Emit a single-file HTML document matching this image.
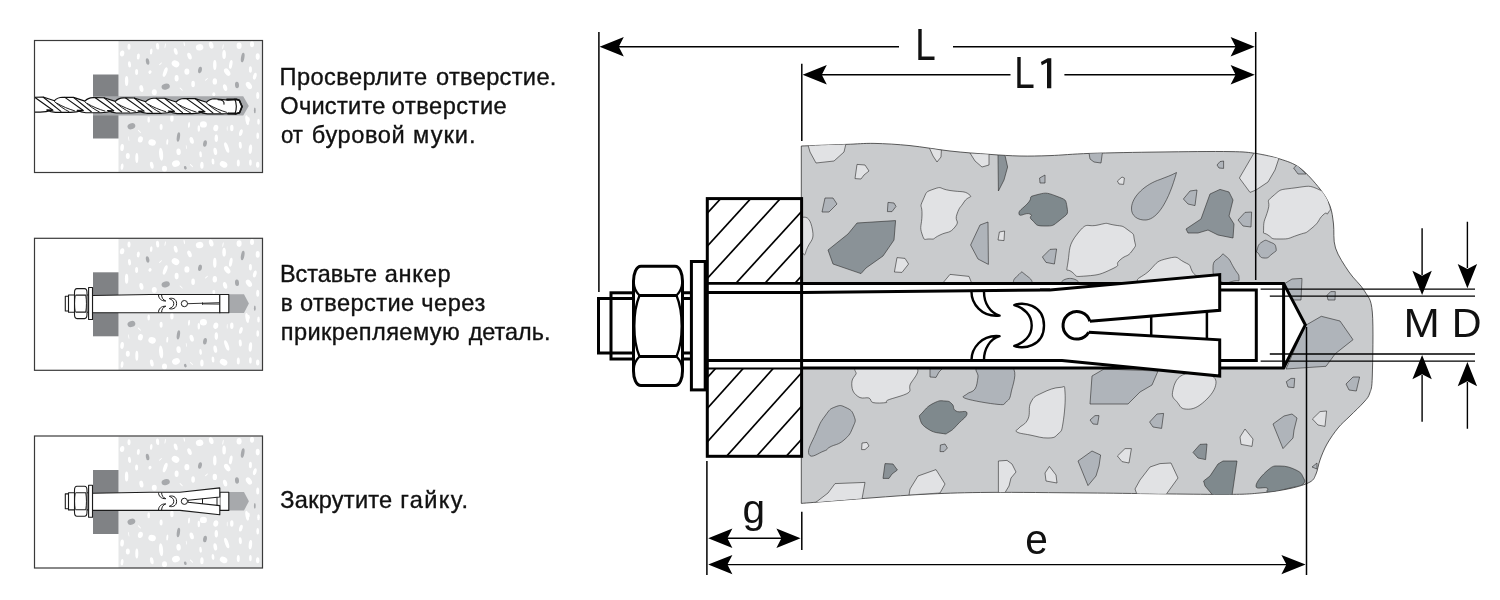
<!DOCTYPE html>
<html><head><meta charset="utf-8"><title>Anchor</title>
<style>
html,body{margin:0;padding:0;background:#fff;}
body{width:1500px;height:600px;overflow:hidden;}
svg{display:block;}
text{font-family:"Liberation Sans",sans-serif;fill:#111;}
svg{opacity:0.999;will-change:transform;}
</style></head><body>
<svg width="1500" height="600" viewBox="0 0 1500 600">
<rect width="1500" height="600" fill="#fff"/>
<path d="M801.3,146.0 C808.8,145.7 833.9,144.8 846.0,144.4 C858.1,144.0 863.3,143.2 874.0,143.4 C884.7,143.6 897.3,144.3 910.0,145.6 C922.7,146.9 936.7,149.5 950.0,151.0 C963.3,152.5 978.3,153.6 990.0,154.4 C1001.7,155.2 1010.0,155.8 1020.0,156.0 C1030.0,156.2 1038.3,156.0 1050.0,155.6 C1061.7,155.2 1071.7,154.0 1090.0,153.4 C1108.3,152.8 1136.7,152.3 1160.0,152.0 C1183.3,151.7 1214.0,151.3 1230.0,151.6 C1246.0,151.8 1247.7,152.3 1256.0,153.5 C1264.3,154.7 1272.7,156.6 1280.0,159.0 C1287.3,161.4 1293.3,163.0 1300.0,168.0 C1306.7,173.0 1315.0,182.7 1320.0,189.0 C1325.0,195.3 1327.8,200.2 1330.0,206.0 C1332.2,211.8 1332.6,217.0 1333.5,224.0 C1334.4,231.0 1332.9,240.0 1335.5,248.0 C1338.1,256.0 1344.2,264.8 1349.0,272.0 C1353.8,279.2 1360.6,284.3 1364.5,291.0 C1368.4,297.7 1371.0,297.8 1372.3,312.0 C1373.6,326.2 1372.7,362.5 1372.3,376.0 C1371.9,389.5 1371.2,388.7 1369.8,393.0 C1368.4,397.3 1367.3,398.2 1364.0,402.0 C1360.7,405.8 1354.3,411.7 1350.0,416.0 C1345.7,420.3 1341.8,423.3 1338.0,428.0 C1334.2,432.7 1330.0,438.7 1327.0,444.0 C1324.0,449.3 1321.8,455.0 1320.0,460.0 C1318.2,465.0 1317.7,470.3 1316.0,474.0 C1314.3,477.7 1314.3,479.6 1310.0,482.0 C1305.7,484.4 1298.3,486.7 1290.0,488.5 C1281.7,490.3 1271.7,492.0 1260.0,493.0 C1248.3,494.0 1248.3,494.4 1220.0,494.4 C1191.7,494.4 1128.3,493.3 1090.0,493.0 C1051.7,492.7 1016.7,492.2 990.0,492.4 C963.3,492.6 950.0,493.1 930.0,494.0 C910.0,494.9 891.5,496.4 870.0,498.0 C848.5,499.6 812.8,502.5 801.3,503.4Z" fill="#c9cbcd" stroke="#333" stroke-width="0.8"/>
<clipPath id="cc"><path d="M801.3,146.0 C808.8,145.7 833.9,144.8 846.0,144.4 C858.1,144.0 863.3,143.2 874.0,143.4 C884.7,143.6 897.3,144.3 910.0,145.6 C922.7,146.9 936.7,149.5 950.0,151.0 C963.3,152.5 978.3,153.6 990.0,154.4 C1001.7,155.2 1010.0,155.8 1020.0,156.0 C1030.0,156.2 1038.3,156.0 1050.0,155.6 C1061.7,155.2 1071.7,154.0 1090.0,153.4 C1108.3,152.8 1136.7,152.3 1160.0,152.0 C1183.3,151.7 1214.0,151.3 1230.0,151.6 C1246.0,151.8 1247.7,152.3 1256.0,153.5 C1264.3,154.7 1272.7,156.6 1280.0,159.0 C1287.3,161.4 1293.3,163.0 1300.0,168.0 C1306.7,173.0 1315.0,182.7 1320.0,189.0 C1325.0,195.3 1327.8,200.2 1330.0,206.0 C1332.2,211.8 1332.6,217.0 1333.5,224.0 C1334.4,231.0 1332.9,240.0 1335.5,248.0 C1338.1,256.0 1344.2,264.8 1349.0,272.0 C1353.8,279.2 1360.6,284.3 1364.5,291.0 C1368.4,297.7 1371.0,297.8 1372.3,312.0 C1373.6,326.2 1372.7,362.5 1372.3,376.0 C1371.9,389.5 1371.2,388.7 1369.8,393.0 C1368.4,397.3 1367.3,398.2 1364.0,402.0 C1360.7,405.8 1354.3,411.7 1350.0,416.0 C1345.7,420.3 1341.8,423.3 1338.0,428.0 C1334.2,432.7 1330.0,438.7 1327.0,444.0 C1324.0,449.3 1321.8,455.0 1320.0,460.0 C1318.2,465.0 1317.7,470.3 1316.0,474.0 C1314.3,477.7 1314.3,479.6 1310.0,482.0 C1305.7,484.4 1298.3,486.7 1290.0,488.5 C1281.7,490.3 1271.7,492.0 1260.0,493.0 C1248.3,494.0 1248.3,494.4 1220.0,494.4 C1191.7,494.4 1128.3,493.3 1090.0,493.0 C1051.7,492.7 1016.7,492.2 990.0,492.4 C963.3,492.6 950.0,493.1 930.0,494.0 C910.0,494.9 891.5,496.4 870.0,498.0 C848.5,499.6 812.8,502.5 801.3,503.4Z"/></clipPath>
<g clip-path="url(#cc)">
<path d="M808.0,145.0 L846.0,143.5 L844.0,152.0 L834.0,161.0 L816.0,163.0 L810.0,152.0Z" fill="#e1e2e4" stroke="#2a2a2a" stroke-width="0.6" stroke-linejoin="round" />
<path d="M857.0,164.4 L865.0,165.0 L869.0,171.0 L864.0,175.0 L861.0,179.0 L855.0,178.6Z" fill="#e1e2e4" stroke="#2a2a2a" stroke-width="0.6" stroke-linejoin="round" />
<path d="M825.0,198.0 L833.0,198.0 L837.0,204.0 L829.0,212.0 L822.0,212.0Z" fill="#afb4ba" stroke="#2a2a2a" stroke-width="0.6" stroke-linejoin="round" />
<path d="M888.0,202.4 L894.0,203.0 L896.0,206.4 L892.0,211.6 L887.4,211.6Z" fill="#afb4ba" stroke="#2a2a2a" stroke-width="0.6" stroke-linejoin="round" />
<path d="M929.4,148.0 L941.4,150.0 L941.0,157.0 L937.0,162.0 L933.0,156.0Z" fill="#e1e2e4" stroke="#2a2a2a" stroke-width="0.6" stroke-linejoin="round" />
<path d="M970.0,153.0 L989.0,154.0 L989.0,165.0 L982.0,167.0 L975.0,161.0Z" fill="#e1e2e4" stroke="#2a2a2a" stroke-width="0.6" stroke-linejoin="round" />
<path d="M998.0,155.0 L1005.0,155.5 L1007.6,167.0 L1004.0,180.0 L998.4,191.0Z" fill="#8a9297" stroke="#2a2a2a" stroke-width="0.6" stroke-linejoin="round" />
<path d="M923.0,200.0 C927.0,191.3 925.0,192.2 934.0,189.0 C943.0,185.8 938.3,188.7 950.0,190.5 C961.7,192.3 964.3,190.6 969.0,194.4 C973.7,198.2 968.0,195.5 964.0,202.0 C960.0,208.5 960.0,205.7 957.0,214.0 C954.0,222.3 960.7,220.0 955.0,227.0 C949.3,234.0 948.3,231.0 940.0,235.0 C931.7,239.0 936.0,239.3 930.0,239.0 C924.0,238.7 924.7,242.0 922.0,234.0 C919.3,226.0 921.7,226.3 922.0,215.0 C922.3,203.7 919.0,208.7 923.0,200.0Z" fill="#e1e2e4" stroke="#2a2a2a" stroke-width="0.6" stroke-linejoin="round"/>
<path d="M828.0,250.0 L848.0,234.0 L857.0,223.0 L895.6,220.6 L894.0,240.0 L883.0,256.0 L866.0,268.0 L861.0,273.6 L833.0,264.0Z" fill="#8a9297" stroke="#2a2a2a" stroke-width="0.6" stroke-linejoin="round" />
<path d="M988.0,222.0 L988.4,264.4 L978.0,259.0 L970.6,245.0 L980.0,225.0Z" fill="#afb4ba" stroke="#2a2a2a" stroke-width="0.6" stroke-linejoin="round" />
<path d="M999.4,232.0 L1004.6,231.0 L1004.0,240.6 L998.0,240.0Z" fill="#e1e2e4" stroke="#2a2a2a" stroke-width="0.6" stroke-linejoin="round" />
<path d="M1019.0,214.0 C1018.3,210.3 1022.3,209.3 1028.0,203.0 C1033.7,196.7 1026.7,197.3 1036.0,195.0 C1045.3,192.7 1045.7,192.0 1056.0,196.0 C1066.3,200.0 1065.7,199.0 1067.0,207.0 C1068.3,215.0 1067.7,213.7 1060.0,220.0 C1052.3,226.3 1053.3,226.0 1044.0,226.0 C1034.7,226.0 1036.7,224.0 1032.0,220.0 C1027.3,216.0 1034.3,216.0 1030.0,214.0 C1025.7,212.0 1019.7,217.7 1019.0,214.0Z" fill="#7f898d" stroke="#2a2a2a" stroke-width="0.6" stroke-linejoin="round"/>
<path d="M1039.6,178.0 L1045.0,175.0 L1045.0,183.0 L1040.0,183.0Z" fill="#afb4ba" stroke="#2a2a2a" stroke-width="0.6" stroke-linejoin="round" />
<path d="M802.0,217.5 C807.8,215.8 810.7,220.0 812.5,230.0 C814.3,240.0 811.0,240.0 807.5,247.5 C804.0,255.0 806.2,256.7 802.0,252.5 C797.8,248.3 795.0,246.7 795.0,235.0 C795.0,223.3 796.2,219.2 802.0,217.5Z" fill="#e1e2e4" stroke="#2a2a2a" stroke-width="0.6" stroke-linejoin="round"/>
<path d="M897.0,257.6 L905.0,258.4 L908.6,264.0 L902.0,272.4 L894.4,272.0Z" fill="#e1e2e4" stroke="#2a2a2a" stroke-width="0.6" stroke-linejoin="round" />
<path d="M942.0,284.0 L950.0,274.4 L969.0,276.4 L972.0,284.0Z" fill="#e1e2e4" stroke="#2a2a2a" stroke-width="0.6" stroke-linejoin="round" />
<path d="M1015.0,284.0 C1011.0,280.8 1015.7,277.6 1019.0,274.4 C1022.3,271.2 1021.0,271.2 1025.0,274.4 C1029.0,277.6 1034.3,280.8 1031.0,284.0 C1027.7,287.2 1019.0,287.2 1015.0,284.0Z" fill="#afb4ba" stroke="#2a2a2a" stroke-width="0.6" stroke-linejoin="round"/>
<path d="M1062.0,284.0 C1059.3,282.1 1064.7,278.4 1070.0,278.4 C1075.3,278.4 1080.7,282.1 1078.0,284.0 C1075.3,285.9 1064.7,285.9 1062.0,284.0Z" fill="#afb4ba" stroke="#2a2a2a" stroke-width="0.6" stroke-linejoin="round"/>
<path d="M1042.4,257.0 L1050.0,249.4 L1056.6,249.0 L1054.4,264.0 L1046.0,262.4Z" fill="#afb4ba" stroke="#2a2a2a" stroke-width="0.6" stroke-linejoin="round" />
<path d="M1068.0,262.0 C1070.0,249.0 1068.0,245.3 1078.0,233.0 C1088.0,220.7 1086.0,227.7 1098.0,225.0 C1110.0,222.3 1104.0,223.3 1114.0,225.0 C1124.0,226.7 1121.2,225.0 1128.0,230.0 C1134.8,235.0 1133.1,233.0 1134.4,240.0 C1135.7,247.0 1136.8,244.3 1132.0,251.0 C1127.2,257.7 1126.7,254.0 1120.0,260.0 C1113.3,266.0 1123.3,263.7 1112.0,269.0 C1100.7,274.3 1099.3,275.0 1086.0,276.0 C1072.7,277.0 1078.0,276.7 1072.0,272.0 C1066.0,267.3 1066.0,275.0 1068.0,262.0Z" fill="#e1e2e4" stroke="#2a2a2a" stroke-width="0.6" stroke-linejoin="round"/>
<path d="M1176.5,172.5 C1170,176 1166,177 1160,179.5 C1146,184 1132,196 1131.5,208 C1131,216 1138,220.5 1146,220 C1158,219 1169,200 1176.5,172.5 Z" fill="#afb4ba" stroke="#2a2a2a" stroke-width="0.6"/>
<path d="M1186.0,229.0 L1201.0,219.0 L1210.0,194.0 L1220.0,189.4 L1229.0,192.0 L1233.0,200.0 L1229.0,216.0 L1234.0,224.0 L1233.0,238.0 L1218.0,235.0 L1208.0,230.0 L1198.0,233.0 L1188.0,233.0Z" fill="#8a9297" stroke="#2a2a2a" stroke-width="0.6" stroke-linejoin="round" />
<path d="M1183.4,199.0 L1190.0,191.0 L1197.0,190.0 L1195.0,205.6 L1188.0,204.0Z" fill="#afb4ba" stroke="#2a2a2a" stroke-width="0.6" stroke-linejoin="round" />
<path d="M1238.0,220.0 L1245.0,212.4 L1251.6,212.0 L1251.0,227.0 L1243.0,226.0Z" fill="#afb4ba" stroke="#2a2a2a" stroke-width="0.6" stroke-linejoin="round" />
<path d="M1117.4,181.0 L1122.0,177.0 L1124.4,178.0 L1123.6,184.4 L1119.0,184.0Z" fill="#e1e2e4" stroke="#2a2a2a" stroke-width="0.6" stroke-linejoin="round" />
<path d="M1089.0,153.0 L1102.4,152.6 L1101.0,163.0 L1094.0,162.0 L1090.0,159.0Z" fill="#afb4ba" stroke="#2a2a2a" stroke-width="0.6" stroke-linejoin="round" />
<path d="M1217.0,165.0 L1220.0,161.6 L1223.6,161.0 L1223.6,168.4 L1219.0,168.0Z" fill="#afb4ba" stroke="#2a2a2a" stroke-width="0.6" stroke-linejoin="round" />
<path d="M1239.4,178.0 L1254.0,153.0 L1279.0,158.0 L1275.0,170.0 L1268.0,182.0 L1256.0,190.0 L1250.0,192.4Z" fill="#e1e2e4" stroke="#2a2a2a" stroke-width="0.6" stroke-linejoin="round" />
<path d="M1293.6,168.0 L1297.0,165.0 L1306.0,174.0 L1298.0,174.0Z" fill="#afb4ba" stroke="#2a2a2a" stroke-width="0.6" stroke-linejoin="round" />
<path d="M1263.6,228.0 C1263.6,219.7 1264.9,220.7 1268.0,210.0 C1271.1,199.3 1264.3,203.3 1273.0,196.0 C1281.7,188.7 1278.3,190.0 1294.0,188.0 C1309.7,186.0 1308.3,184.7 1320.0,190.0 C1331.7,195.3 1326.3,196.3 1329.0,204.0 C1331.7,211.7 1330.0,209.3 1328.0,213.0 C1326.0,216.7 1328.3,210.0 1323.0,215.0 C1317.7,220.0 1320.3,221.3 1312.0,228.0 C1303.7,234.7 1308.7,231.3 1298.0,235.0 C1287.3,238.7 1290.0,239.0 1280.0,239.0 C1270.0,239.0 1273.5,238.7 1268.0,235.0 C1262.5,231.3 1263.6,236.3 1263.6,228.0Z" fill="#e1e2e4" stroke="#2a2a2a" stroke-width="0.6" stroke-linejoin="round"/>
<path d="M1257.0,250.0 C1258.3,246.3 1257.7,244.7 1262.0,242.0 C1266.3,239.3 1265.3,240.0 1270.0,242.0 C1274.7,244.0 1275.3,244.0 1276.0,248.0 C1276.7,252.0 1276.0,250.7 1272.0,254.0 C1268.0,257.3 1268.7,258.3 1264.0,258.0 C1259.3,257.7 1260.3,255.7 1258.0,253.0 C1255.7,250.3 1255.7,253.7 1257.0,250.0Z" fill="#afb4ba" stroke="#2a2a2a" stroke-width="0.6" stroke-linejoin="round"/>
<path d="M1144.0,284.0 C1129.3,279.3 1142.0,278.5 1150.0,270.0 C1158.0,261.5 1156.7,261.1 1168.0,258.4 C1179.3,255.7 1176.0,257.8 1184.0,262.0 C1192.0,266.2 1188.7,263.7 1192.0,271.0 C1195.3,278.3 1210.0,279.7 1194.0,284.0 C1178.0,288.3 1158.7,288.7 1144.0,284.0Z" fill="#e1e2e4" stroke="#2a2a2a" stroke-width="0.6" stroke-linejoin="round"/>
<path d="M1213.0,268.0 C1213.0,260.0 1215.7,260.9 1220.0,257.0 C1224.3,253.1 1221.3,252.7 1226.0,256.4 C1230.7,260.1 1229.7,260.8 1234.0,268.0 C1238.3,275.2 1239.0,273.7 1239.0,278.0 C1239.0,282.3 1240.3,280.0 1234.0,281.0 C1227.7,282.0 1227.0,285.3 1220.0,281.0 C1213.0,276.7 1213.0,276.0 1213.0,268.0Z" fill="#afb4ba" stroke="#2a2a2a" stroke-width="0.6" stroke-linejoin="round"/>
<path d="M1284.0,284.0 L1292.0,279.0 L1302.0,278.4 L1301.0,300.0 L1290.0,300.0Z" fill="#afb4ba" stroke="#2a2a2a" stroke-width="0.6" stroke-linejoin="round" />
<path d="M1286.0,369.0 L1305.0,325.7 L1321.3,316.3 L1340.0,321.0 L1353.0,339.7 L1335.3,353.7 L1326.0,366.3Z" fill="#afb4ba" stroke="#2a2a2a" stroke-width="0.6" stroke-linejoin="round" />
<path d="M1327.0,295.3 L1330.7,291.6 L1335.3,291.6 L1335.0,300.0 L1328.0,300.0Z" fill="#afb4ba" stroke="#2a2a2a" stroke-width="0.6" stroke-linejoin="round" />
<path d="M1286.3,381.7 L1291.0,378.4 L1294.7,378.4 L1294.0,387.7 L1288.0,387.0Z" fill="#afb4ba" stroke="#2a2a2a" stroke-width="0.6" stroke-linejoin="round" />
<path d="M1346.0,384.0 L1353.0,377.0 L1359.6,377.0 L1356.3,391.0 L1349.0,390.0Z" fill="#afb4ba" stroke="#2a2a2a" stroke-width="0.6" stroke-linejoin="round" />
<path d="M852.0,381.0 C852.5,378.2 854.7,376.3 856.0,374.0 C857.3,371.7 850.2,368.2 860.0,367.0 C869.8,365.8 906.7,364.0 915.0,367.0 C923.3,370.0 911.2,380.7 910.0,385.0 C908.8,389.3 911.7,390.5 908.0,393.0 C904.3,395.5 891.7,398.4 888.0,400.0 C884.3,401.6 888.5,402.2 886.0,402.6 C883.5,403.0 875.8,403.4 873.0,402.6 C870.2,401.8 871.2,398.8 869.0,398.0 C866.8,397.2 862.7,398.8 860.0,397.6 C857.3,396.4 854.3,393.8 853.0,391.0 C851.7,388.2 851.5,383.8 852.0,381.0Z" fill="#e1e2e4" stroke="#2a2a2a" stroke-width="0.6" stroke-linejoin="round"/>
<path d="M930.0,367.0 L944.0,367.0 L939.0,372.0 L936.0,377.4 L930.0,377.0Z" fill="#afb4ba" stroke="#2a2a2a" stroke-width="0.6" stroke-linejoin="round" />
<path d="M979.0,367.0 C985.8,365.0 1005.6,361.8 1012.0,367.0 C1018.4,372.2 1012.2,386.0 1011.0,393.0 C1009.8,400.0 1008.6,399.7 1006.0,402.0 C1003.4,404.3 1006.0,405.1 998.0,404.4 C990.0,403.7 972.2,400.7 966.0,398.6 C959.8,396.5 965.2,395.9 967.0,394.0 C968.8,392.1 972.8,392.4 975.0,389.0 C977.2,385.6 977.2,381.4 978.0,377.0 C978.8,372.6 972.2,369.0 979.0,367.0Z" fill="#afb4ba" stroke="#2a2a2a" stroke-width="0.6" stroke-linejoin="round"/>
<path d="M920.0,419.0 C918.7,414.5 919.3,416.3 923.0,412.0 C926.7,407.7 928.1,405.9 934.0,403.0 C939.9,400.1 940.2,400.7 945.0,401.0 C949.8,401.3 949.1,401.3 952.0,404.0 C954.9,406.7 952.0,408.6 956.0,411.0 C960.0,413.4 966.5,409.5 967.0,413.0 C967.5,416.5 962.8,418.9 958.0,424.0 C953.2,429.1 953.3,429.5 949.0,432.0 C944.7,434.5 947.6,434.2 942.0,433.4 C936.4,432.6 933.9,432.8 928.0,429.0 C922.1,425.2 921.3,423.5 920.0,419.0Z" fill="#7f898d" stroke="#2a2a2a" stroke-width="0.6" stroke-linejoin="round"/>
<path d="M809.0,454.4 C806.9,449.6 811.7,443.2 816.0,433.0 C820.3,422.8 819.9,422.9 825.0,416.0 C830.1,409.1 829.4,409.2 835.0,407.0 C840.6,404.8 840.9,405.2 846.0,407.6 C851.1,410.0 852.1,410.8 854.0,416.0 C855.9,421.2 855.7,420.6 853.0,427.0 C850.3,433.4 850.1,434.7 844.0,440.0 C837.9,445.3 835.3,444.1 830.0,447.0 C824.7,449.9 829.6,449.0 824.0,451.0 C818.4,453.0 811.1,459.2 809.0,454.4Z" fill="#afb4ba" stroke="#2a2a2a" stroke-width="0.6" stroke-linejoin="round"/>
<path d="M1017.0,432.0 C1014.4,430.4 1016.4,431.0 1019.0,428.0 C1021.6,425.0 1025.2,425.1 1028.0,419.0 C1030.8,412.9 1027.7,408.1 1031.0,402.0 C1034.3,395.9 1035.2,396.4 1042.0,393.0 C1048.8,389.6 1054.6,387.6 1060.0,387.4 C1065.4,387.2 1064.3,383.7 1065.0,392.0 C1065.7,400.3 1064.6,413.2 1063.0,423.0 C1061.4,432.8 1061.5,430.5 1058.0,434.0 C1054.5,437.5 1054.5,437.8 1048.0,438.0 C1041.5,438.2 1037.2,436.4 1030.0,435.0 C1022.8,433.6 1019.6,433.6 1017.0,432.0Z" fill="#e1e2e4" stroke="#2a2a2a" stroke-width="0.6" stroke-linejoin="round"/>
<path d="M862.0,443.0 L867.0,442.4 L869.0,446.0 L865.0,449.6 L861.6,449.6Z" fill="#e1e2e4" stroke="#2a2a2a" stroke-width="0.6" stroke-linejoin="round" />
<path d="M940.4,445.0 L945.0,444.0 L947.4,448.0 L944.0,451.6 L940.0,451.6Z" fill="#afb4ba" stroke="#2a2a2a" stroke-width="0.6" stroke-linejoin="round" />
<path d="M885.0,463.6 L893.0,464.0 L897.4,470.0 L892.0,474.0 L889.0,478.4 L883.0,478.4Z" fill="#8a9297" stroke="#2a2a2a" stroke-width="0.6" stroke-linejoin="round" />
<path d="M815.0,503.0 L828.0,493.0 L835.0,483.6 L865.0,482.4 L862.0,499.0Z" fill="#e1e2e4" stroke="#2a2a2a" stroke-width="0.6" stroke-linejoin="round" />
<path d="M909.0,495.0 L910.0,489.0 L918.0,476.0 L936.0,469.6 L945.0,484.0 L940.0,493.0Z" fill="#e1e2e4" stroke="#2a2a2a" stroke-width="0.6" stroke-linejoin="round" />
<path d="M998.4,461.0 L1007.0,460.4 L1012.0,464.0 L1016.0,472.0 L1011.0,478.0 L1009.0,486.0 L1005.0,492.6 L998.4,492.6Z" fill="#e1e2e4" stroke="#2a2a2a" stroke-width="0.6" stroke-linejoin="round" />
<path d="M1045.0,473.0 L1049.4,466.4 L1056.0,475.0 L1057.0,483.0 L1046.0,481.0Z" fill="#e1e2e4" stroke="#2a2a2a" stroke-width="0.6" stroke-linejoin="round" />
<path d="M1078.0,461.0 L1092.0,451.0 L1100.6,455.0 L1099.0,466.0 L1096.0,476.0 L1088.0,485.6Z" fill="#afb4ba" stroke="#2a2a2a" stroke-width="0.6" stroke-linejoin="round" />
<path d="M1090.0,404.0 L1092.0,376.0 L1104.0,369.0 L1158.0,371.0 L1152.0,385.0 L1140.0,392.0 L1128.0,404.0Z" fill="#afb4ba" stroke="#2a2a2a" stroke-width="0.6" stroke-linejoin="round" />
<path d="M1172.5,392.5 C1173.5,387.0 1175.0,378.5 1182.5,375.0 C1190.0,371.5 1203.5,372.5 1210.0,375.0 C1216.5,377.5 1217.0,381.5 1215.0,387.5 C1213.0,393.5 1206.0,400.7 1200.0,405.0 C1194.0,409.3 1189.5,409.5 1185.0,409.0 C1180.5,408.5 1180.0,405.8 1177.5,402.5 C1175.0,399.2 1171.5,398.0 1172.5,392.5Z" fill="#e1e2e4" stroke="#2a2a2a" stroke-width="0.6" stroke-linejoin="round"/>
<path d="M1090.0,420.0 L1095.0,415.6 L1099.0,415.6 L1097.6,424.4 L1093.0,424.0Z" fill="#afb4ba" stroke="#2a2a2a" stroke-width="0.6" stroke-linejoin="round" />
<path d="M1149.6,422.0 L1157.0,414.0 L1163.6,413.4 L1161.6,428.4 L1153.0,427.0Z" fill="#afb4ba" stroke="#2a2a2a" stroke-width="0.6" stroke-linejoin="round" />
<path d="M1117.4,456.0 L1125.0,448.6 L1131.4,448.6 L1129.0,463.0 L1122.0,461.6Z" fill="#e1e2e4" stroke="#2a2a2a" stroke-width="0.6" stroke-linejoin="round" />
<path d="M1135.0,489.0 L1140.0,480.0 L1150.0,467.0 L1160.0,463.6 L1171.0,463.0 L1178.0,478.0 L1166.0,494.6 L1137.0,494.6Z" fill="#e1e2e4" stroke="#2a2a2a" stroke-width="0.6" stroke-linejoin="round" />
<path d="M1193.0,452.4 L1200.0,444.4 L1207.0,444.0 L1205.6,459.6 L1198.0,458.0Z" fill="#8a9297" stroke="#2a2a2a" stroke-width="0.6" stroke-linejoin="round" />
<path d="M1240.0,437.0 L1245.0,429.0 L1253.0,439.0 L1252.0,446.4 L1241.0,444.4Z" fill="#e1e2e4" stroke="#2a2a2a" stroke-width="0.6" stroke-linejoin="round" />
<path d="M1203.6,481.0 L1210.0,476.0 L1218.0,464.0 L1223.0,461.0 L1237.0,461.0 L1232.0,495.4 L1213.0,495.4 L1205.0,486.0Z" fill="#7f898d" stroke="#2a2a2a" stroke-width="0.6" stroke-linejoin="round" />
<path d="M1256.0,486.0 C1256.2,481.8 1262.4,474.7 1268.0,470.0 C1273.6,465.3 1273.5,466.0 1280.0,466.0 C1286.5,466.0 1290.6,467.4 1296.0,470.0 C1301.4,472.6 1301.4,473.7 1303.0,477.0 C1304.6,480.3 1306.0,481.4 1303.0,484.0 C1300.0,486.6 1297.9,486.1 1290.0,488.0 C1282.1,489.9 1274.4,492.0 1269.0,492.0 C1263.6,492.0 1270.0,489.4 1267.0,488.0 C1264.0,486.6 1255.8,490.2 1256.0,486.0Z" fill="#7f898d" stroke="#2a2a2a" stroke-width="0.6" stroke-linejoin="round"/>
<path d="M1273.0,424.0 L1284.0,416.0 L1292.0,414.0 L1297.0,418.0 L1294.0,430.0 L1293.0,438.0 L1283.0,448.6Z" fill="#afb4ba" stroke="#2a2a2a" stroke-width="0.6" stroke-linejoin="round" />
<path d="M1312.4,419.0 L1320.0,411.6 L1326.6,411.0 L1325.0,426.4 L1318.0,425.0Z" fill="#e1e2e4" stroke="#2a2a2a" stroke-width="0.6" stroke-linejoin="round" />
<path d="M1312.0,467.0 L1317.0,463.0 L1317.0,469.0Z" fill="#afb4ba" stroke="#2a2a2a" stroke-width="0.6" stroke-linejoin="round" />
</g>
<g stroke="#000" stroke-width="1.5" fill="none">
<path d="M598.9,32 V292"/>
<path d="M801.8,63.7 V141"/>
<path d="M1255.7,32 V280"/>
<path d="M1306.5,327 V575"/>
<path d="M706.9,461 V575"/>
<path d="M801.8,511.8 V550"/>
</g>
<path d="M801.6,283.4 H1283.6 L1305.3,324.8 L1283.6,368 H801.6 Z" fill="#fff" stroke="none"/>
<rect x="707.3" y="198.6" width="94.3" height="257.7" fill="#fff" stroke="none"/>
<clipPath id="h1"><rect x="707.3" y="198.6" width="94.3" height="84.8"/></clipPath>
<clipPath id="h2"><rect x="707.3" y="368" width="94.3" height="88.3"/></clipPath>
<g clip-path="url(#h1)" stroke="#000" stroke-width="1.7"><path d="M729.4,189.1 L609.4,320.4"/><path d="M759.4,189.1 L639.4,320.4"/><path d="M789.0,189.1 L669.0,320.4"/><path d="M822.0,189.1 L702.0,320.4"/><path d="M851.0,189.1 L731.0,320.4"/><path d="M881.0,189.1 L761.0,320.4"/></g>
<g clip-path="url(#h2)" stroke="#000" stroke-width="1.7"><path d="M724.6,358.4 L604.6,492.1"/><path d="M752.2,358.4 L632.2,492.1"/><path d="M782.2,358.4 L662.2,492.1"/><path d="M814.4,358.4 L694.4,492.1"/><path d="M844.5,358.4 L724.5,492.1"/><path d="M874.1,358.4 L754.1,492.1"/></g>
<g stroke="#000" stroke-width="3.0" fill="none" stroke-linejoin="miter">
<rect x="707.3" y="198.6" width="94.3" height="257.7"/>
<path d="M801.6,283.4 H1283.6 L1305.3,324.8 L1283.6,368 H801.6"/>
<path d="M707.3,283.4 H801.6" stroke-width="2.8"/>
<path d="M707.3,368.5 H801.6" stroke-width="2.1"/>
<path d="M1283.6,283.4 V368"/>
<path d="M707.3,292.6 L802,292.4 L1050,290"/>
<path d="M707.3,360.5 L802,360.5 L1062,360.4"/>
</g>
<g stroke="#000" stroke-width="3.0" fill="#fff" stroke-linejoin="miter">
<path d="M1040,290.2 L1050,290 L1219.7,274.6 V310.3 L1089.9,321.2 L1040,322 Z" stroke="none"/>
<path d="M1040,360.4 L1062,360.4 L1219.7,376 V339.8 L1088.7,332.2 L1040,331 Z" stroke="none"/>
<path d="M1040,290.1 L1050,290 L1219.7,274.6 V310.3 L1089.9,321.2" fill="none"/>
<path d="M1040,360.4 L1062,360.4 L1219.7,376 V339.8 L1088.7,332.2" fill="none"/>
<path d="M1219.7,290 H1256.3 V360.6 H1219.7" fill="none"/>
</g>
<g stroke="#000" stroke-width="2.5" fill="none">
<path d="M1206.9,311.4 V339"/>
<path d="M1151.2,316.2 V335.8"/>
<path d="M1089.9,321.2 A13.75,13.75 0 1 0 1088.7,332.2" stroke-width="3.0"/>
<path d="M971.5,292 C971.5,303 981,317.5 999.6,315.6 C990,313 984,303 984,292" stroke-width="2.4" stroke-linejoin="round"/>
<path d="M971.5,359.8 C971.5,349 981,334.3 999.6,336.2 C990,338.8 984,349 984,359.8" stroke-width="2.4" stroke-linejoin="round"/>
<path d="M1014.3,305 C1022,301.5 1044,304 1044,325.4 C1044,347 1022,349.5 1014.3,346 C1024,343 1031.7,336 1031.7,325.4 C1031.7,315 1024,308 1014.3,305 Z" stroke-width="2.4" stroke-linejoin="round"/>
</g>
<g stroke="#000" stroke-width="3.0" fill="#fff" stroke-linejoin="miter">
<rect x="598.5" y="298.5" width="35" height="54.5" fill="none"/>
<rect x="611" y="292.8" width="22.5" height="66.2" fill="none"/>
<path d="M682.5,292.8 H691 M682.5,298.5 H691 M682.5,353 H691 M682.5,359 H691" fill="none"/>
<rect x="691.4" y="261.5" width="13.8" height="128.4"/>
<path d="M641,266.3 H675 C680,266.3 682.5,274 682.5,281 V371 C682.5,378 680,385.6 675,385.6 H641 C636,385.6 633.5,378 633.5,371 V281 C633.5,274 636,266.3 641,266.3 Z"/>
<path d="M639.5,295.5 H676.5 M639.5,356.5 H676.5" fill="none"/>
<path d="M633.8,283 C634,289 636.5,292.5 639.5,295.5 C632.6,312 632.6,340 639.5,356.5 C636.5,359.5 634,363 633.8,369" fill="none" stroke-width="2.3"/>
<path d="M682.2,283 C682,289 679.5,292.5 676.5,295.5 C683.4,312 683.4,340 676.5,356.5 C679.5,359.5 682,363 682.2,369" fill="none" stroke-width="2.3"/>
</g>
<g stroke="#000" stroke-width="1.4" fill="none">
<path d="M615,46.7 H899 M953,46.7 H1240"/>
<path d="M818,74.7 H1010.5 M1064.4,74.7 H1240"/>
<path d="M725,538.3 H785"/>
<path d="M725,564.6 H1290"/>
<path d="M1260.6,289.1 H1475 M1269.8,296.1 H1475 M1269.8,354 H1475 M1260.6,361.1 H1475"/>
<path d="M1422.1,228.2 V275 M1467.4,221.8 V268 M1422.1,421.8 V375 M1467.4,428.8 V382"/>
</g>
<path d="M599.6,46.7 L623.8,56.4 L618.8,46.7 L623.8,37.0 Z" fill="#000"/>
<path d="M1254.8,46.7 L1230.6,37.0 L1235.6,46.7 L1230.6,56.4 Z" fill="#000"/>
<path d="M802.6,74.7 L826.8,84.4 L821.8,74.7 L826.8,65.0 Z" fill="#000"/>
<path d="M1254.8,74.7 L1230.6,65.0 L1235.6,74.7 L1230.6,84.4 Z" fill="#000"/>
<path d="M708.2,538.3 L732.4,548.0 L727.4,538.3 L732.4,528.6 Z" fill="#000"/>
<path d="M800.6,538.3 L776.4,528.6 L781.4,538.3 L776.4,548.0 Z" fill="#000"/>
<path d="M708.2,564.6 L732.4,574.3 L727.4,564.6 L732.4,554.9 Z" fill="#000"/>
<path d="M1305.6,564.6 L1281.4,554.9 L1286.4,564.6 L1281.4,574.3 Z" fill="#000"/>
<path d="M1422.1,295.0 L1431.8,270.8 L1422.1,275.8 L1412.4,270.8 Z" fill="#000"/>
<path d="M1467.4,288.3 L1477.1,264.1 L1467.4,269.1 L1457.7,264.1 Z" fill="#000"/>
<path d="M1422.1,355.0 L1412.4,379.2 L1422.1,374.2 L1431.8,379.2 Z" fill="#000"/>
<path d="M1467.4,362.0 L1457.7,386.2 L1467.4,381.2 L1477.1,386.2 Z" fill="#000"/>
<text x="915.2" y="60.0" font-size="43.5" textLength="20.5" lengthAdjust="spacingAndGlyphs">L</text>
<text x="1014.2" y="88.3" font-size="43.5" textLength="20.5" lengthAdjust="spacingAndGlyphs">L</text>
<path d="M1051.3,88.3 V58.3 H1047.8 L1040.9,62.1 L1041.8,65.3 L1047,62.6 V88.3 Z" fill="#111"/>
<text x="1403.6" y="337.3" font-size="41.5" textLength="36.3" lengthAdjust="spacingAndGlyphs">M</text>
<text x="1451.8" y="337.3" font-size="41.5" textLength="29.8" lengthAdjust="spacingAndGlyphs">D</text>
<text x="742.4" y="523.2" font-size="41.0" textLength="22.6" lengthAdjust="spacingAndGlyphs">g</text>
<text x="1025.2" y="554.0" font-size="42.0" textLength="22.6" lengthAdjust="spacingAndGlyphs">e</text>
<g transform="translate(0,0.0)"><rect x="118.5" y="41" width="144" height="131.5" fill="#e6e7e8"/><ellipse cx="129.0" cy="46.8" rx="1.5" ry="3.0" fill="#fff" transform="rotate(0 129.0 46.8)"/><ellipse cx="122.1" cy="53.5" rx="2.2" ry="3.0" fill="#fff" transform="rotate(10 122.1 53.5)"/><ellipse cx="138.3" cy="56.6" rx="1.5" ry="3.0" fill="#fff" transform="rotate(5 138.3 56.6)"/><ellipse cx="129.5" cy="64.4" rx="1.5" ry="3.2" fill="#fff" transform="rotate(-5 129.5 64.4)"/><ellipse cx="136.6" cy="72.1" rx="1.5" ry="3.0" fill="#fff" transform="rotate(0 136.6 72.1)"/><ellipse cx="126.6" cy="80.9" rx="1.7" ry="5.0" fill="#fff" transform="rotate(0 126.6 80.9)"/><ellipse cx="141.4" cy="88.6" rx="2.0" ry="3.5" fill="#fff" transform="rotate(-10 141.4 88.6)"/><ellipse cx="154.3" cy="92.3" rx="2.5" ry="3.0" fill="#fff" transform="rotate(0 154.3 92.3)"/><ellipse cx="157.6" cy="46.3" rx="1.6" ry="3.3" fill="#fff" transform="rotate(-5 157.6 46.3)"/><ellipse cx="151.2" cy="51.4" rx="1.3" ry="3.0" fill="#fff" transform="rotate(5 151.2 51.4)"/><ellipse cx="150.0" cy="72.1" rx="1.5" ry="1.8" fill="#fff" transform="rotate(30 150.0 72.1)"/><ellipse cx="165.2" cy="72.1" rx="1.8" ry="5.0" fill="#fff" transform="rotate(20 165.2 72.1)"/><ellipse cx="175.7" cy="51.4" rx="1.8" ry="3.5" fill="#fff" transform="rotate(-15 175.7 51.4)"/><ellipse cx="175.5" cy="63.8" rx="4.0" ry="3.2" fill="#fff" transform="rotate(30 175.5 63.8)"/><ellipse cx="176.6" cy="78.3" rx="2.0" ry="3.3" fill="#fff" transform="rotate(0 176.6 78.3)"/><ellipse cx="186.9" cy="71.6" rx="2.5" ry="3.2" fill="#fff" transform="rotate(0 186.9 71.6)"/><ellipse cx="189.5" cy="56.1" rx="2.0" ry="3.5" fill="#fff" transform="rotate(-20 189.5 56.1)"/><ellipse cx="193.1" cy="84.0" rx="1.8" ry="3.3" fill="#fff" transform="rotate(0 193.1 84.0)"/><ellipse cx="199.6" cy="47.3" rx="3.8" ry="3.2" fill="#fff" transform="rotate(-10 199.6 47.3)"/><ellipse cx="211.2" cy="45.2" rx="2.2" ry="3.5" fill="#fff" transform="rotate(-15 211.2 45.2)"/><ellipse cx="214.8" cy="64.9" rx="1.7" ry="5.0" fill="#fff" transform="rotate(0 214.8 64.9)"/><ellipse cx="214.8" cy="81.4" rx="2.2" ry="3.2" fill="#fff" transform="rotate(0 214.8 81.4)"/><ellipse cx="224.1" cy="54.5" rx="1.8" ry="4.5" fill="#fff" transform="rotate(0 224.1 54.5)"/><ellipse cx="230.8" cy="64.4" rx="1.6" ry="4.5" fill="#fff" transform="rotate(10 230.8 64.4)"/><ellipse cx="227.2" cy="72.1" rx="2.5" ry="4.2" fill="#fff" transform="rotate(-35 227.2 72.1)"/><ellipse cx="225.1" cy="87.6" rx="2.0" ry="3.5" fill="#fff" transform="rotate(-15 225.1 87.6)"/><ellipse cx="239.1" cy="45.8" rx="2.5" ry="3.3" fill="#fff" transform="rotate(0 239.1 45.8)"/><ellipse cx="252.0" cy="44.2" rx="2.0" ry="3.0" fill="#fff" transform="rotate(0 252.0 44.2)"/><ellipse cx="257.7" cy="56.6" rx="2.0" ry="3.3" fill="#fff" transform="rotate(0 257.7 56.6)"/><ellipse cx="250.4" cy="69.5" rx="1.5" ry="3.2" fill="#fff" transform="rotate(0 250.4 69.5)"/><ellipse cx="254.8" cy="76.2" rx="1.7" ry="3.5" fill="#fff" transform="rotate(15 254.8 76.2)"/><ellipse cx="248.9" cy="85.5" rx="2.5" ry="4.0" fill="#fff" transform="rotate(-35 248.9 85.5)"/><ellipse cx="257.7" cy="95.4" rx="1.5" ry="3.5" fill="#fff" transform="rotate(0 257.7 95.4)"/><ellipse cx="213.8" cy="94.3" rx="1.5" ry="2.0" fill="#fff" transform="rotate(0 213.8 94.3)"/><ellipse cx="160.5" cy="63.8" rx="0.5" ry="2.0" fill="#fff" transform="rotate(50 160.5 63.8)"/><ellipse cx="165.2" cy="45.8" rx="0.5" ry="2.5" fill="#fff" transform="rotate(10 165.2 45.8)"/><ellipse cx="184.3" cy="44.2" rx="0.6" ry="2.2" fill="#fff" transform="rotate(-10 184.3 44.2)"/><ellipse cx="223.0" cy="46.8" rx="0.5" ry="2.5" fill="#fff" transform="rotate(10 223.0 46.8)"/><ellipse cx="206.5" cy="79.3" rx="0.5" ry="2.0" fill="#fff" transform="rotate(50 206.5 79.3)"/><ellipse cx="181.2" cy="89.2" rx="0.5" ry="2.2" fill="#fff" transform="rotate(-45 181.2 89.2)"/><ellipse cx="148.7" cy="119.7" rx="1.3" ry="3.0" fill="#fff" transform="rotate(0 148.7 119.7)"/><ellipse cx="171.9" cy="118.2" rx="1.7" ry="3.5" fill="#fff" transform="rotate(0 171.9 118.2)"/><ellipse cx="161.1" cy="127.0" rx="1.5" ry="3.0" fill="#fff" transform="rotate(0 161.1 127.0)"/><ellipse cx="189.0" cy="124.9" rx="1.0" ry="3.0" fill="#fff" transform="rotate(5 189.0 124.9)"/><ellipse cx="203.4" cy="124.4" rx="3.5" ry="3.2" fill="#fff" transform="rotate(0 203.4 124.4)"/><ellipse cx="198.8" cy="128.5" rx="1.2" ry="3.3" fill="#fff" transform="rotate(0 198.8 128.5)"/><ellipse cx="215.8" cy="128.0" rx="2.5" ry="3.3" fill="#fff" transform="rotate(10 215.8 128.0)"/><ellipse cx="231.8" cy="128.0" rx="1.7" ry="3.2" fill="#fff" transform="rotate(0 231.8 128.0)"/><ellipse cx="247.1" cy="120.2" rx="1.6" ry="5.0" fill="#fff" transform="rotate(-10 247.1 120.2)"/><ellipse cx="258.5" cy="121.8" rx="1.3" ry="3.0" fill="#fff" transform="rotate(0 258.5 121.8)"/><ellipse cx="240.9" cy="132.6" rx="1.7" ry="3.5" fill="#fff" transform="rotate(15 240.9 132.6)"/><ellipse cx="257.7" cy="135.7" rx="1.3" ry="3.2" fill="#fff" transform="rotate(0 257.7 135.7)"/><ellipse cx="140.4" cy="139.4" rx="2.5" ry="3.2" fill="#fff" transform="rotate(10 140.4 139.4)"/><ellipse cx="152.1" cy="142.5" rx="3.8" ry="3.2" fill="#fff" transform="rotate(15 152.1 142.5)"/><ellipse cx="167.3" cy="141.9" rx="1.0" ry="3.0" fill="#fff" transform="rotate(5 167.3 141.9)"/><ellipse cx="191.7" cy="140.4" rx="2.0" ry="3.5" fill="#fff" transform="rotate(-15 191.7 140.4)"/><ellipse cx="216.3" cy="138.3" rx="1.7" ry="3.8" fill="#fff" transform="rotate(0 216.3 138.3)"/><ellipse cx="122.1" cy="147.6" rx="1.8" ry="3.5" fill="#fff" transform="rotate(5 122.1 147.6)"/><ellipse cx="161.1" cy="154.3" rx="2.0" ry="6.5" fill="#fff" transform="rotate(-5 161.1 154.3)"/><ellipse cx="178.6" cy="151.8" rx="2.2" ry="3.3" fill="#fff" transform="rotate(-5 178.6 151.8)"/><ellipse cx="200.6" cy="154.3" rx="1.3" ry="3.0" fill="#fff" transform="rotate(-5 200.6 154.3)"/><ellipse cx="215.3" cy="151.4" rx="1.8" ry="3.7" fill="#fff" transform="rotate(-10 215.3 151.4)"/><ellipse cx="226.7" cy="147.6" rx="1.8" ry="5.5" fill="#fff" transform="rotate(-20 226.7 147.6)"/><ellipse cx="240.3" cy="145.2" rx="1.5" ry="3.5" fill="#fff" transform="rotate(-5 240.3 145.2)"/><ellipse cx="250.4" cy="149.2" rx="1.7" ry="4.7" fill="#fff" transform="rotate(5 250.4 149.2)"/><ellipse cx="127.8" cy="155.9" rx="2.0" ry="3.0" fill="#fff" transform="rotate(0 127.8 155.9)"/><ellipse cx="136.8" cy="158.0" rx="1.5" ry="5.0" fill="#fff" transform="rotate(0 136.8 158.0)"/><ellipse cx="122.1" cy="166.7" rx="1.4" ry="3.2" fill="#fff" transform="rotate(5 122.1 166.7)"/><ellipse cx="151.8" cy="165.2" rx="1.8" ry="3.5" fill="#fff" transform="rotate(-10 151.8 165.2)"/><ellipse cx="164.5" cy="168.8" rx="2.5" ry="3.0" fill="#fff" transform="rotate(0 164.5 168.8)"/><ellipse cx="176.0" cy="163.6" rx="4.0" ry="3.2" fill="#fff" transform="rotate(-20 176.0 163.6)"/><ellipse cx="201.9" cy="165.2" rx="1.7" ry="3.5" fill="#fff" transform="rotate(0 201.9 165.2)"/><ellipse cx="213.0" cy="161.6" rx="1.4" ry="3.0" fill="#fff" transform="rotate(-5 213.0 161.6)"/><ellipse cx="223.6" cy="164.4" rx="4.0" ry="3.0" fill="#fff" transform="rotate(30 223.6 164.4)"/><ellipse cx="238.3" cy="163.1" rx="1.5" ry="3.5" fill="#fff" transform="rotate(0 238.3 163.1)"/><ellipse cx="250.4" cy="162.6" rx="1.3" ry="3.2" fill="#fff" transform="rotate(0 250.4 162.6)"/><ellipse cx="257.7" cy="164.7" rx="1.7" ry="3.0" fill="#fff" transform="rotate(0 257.7 164.7)"/><ellipse cx="139.4" cy="131.4" rx="0.5" ry="2.2" fill="#fff" transform="rotate(-45 139.4 131.4)"/><ellipse cx="128.7" cy="138.8" rx="0.4" ry="2.5" fill="#fff" transform="rotate(-10 128.7 138.8)"/><ellipse cx="186.4" cy="147.1" rx="0.4" ry="2.2" fill="#fff" transform="rotate(-10 186.4 147.1)"/><ellipse cx="191.5" cy="165.7" rx="0.5" ry="2.2" fill="#fff" transform="rotate(-45 191.5 165.7)"/><ellipse cx="227.2" cy="128.5" rx="0.4" ry="2.5" fill="#fff" transform="rotate(0 227.2 128.5)"/><ellipse cx="248.5" cy="119.5" rx="1.3" ry="2.6" fill="#fff" transform="rotate(0 248.5 119.5)"/><ellipse cx="147.6" cy="61.6" rx="1.7" ry="3.3" fill="#a7a9ac" transform="rotate(-10 147.6 61.6)"/><ellipse cx="200.0" cy="70.0" rx="1.9" ry="3.2" fill="#a7a9ac" transform="rotate(10 200.0 70.0)"/><ellipse cx="242.7" cy="57.6" rx="1.7" ry="4.8" fill="#a7a9ac" transform="rotate(10 242.7 57.6)"/><ellipse cx="165.7" cy="86.6" rx="4.2" ry="3.0" fill="#a7a9ac" transform="rotate(-15 165.7 86.6)"/><ellipse cx="237.0" cy="85.0" rx="2.0" ry="3.2" fill="#a7a9ac" transform="rotate(-5 237.0 85.0)"/><ellipse cx="131.4" cy="126.2" rx="4.0" ry="3.0" fill="#a7a9ac" transform="rotate(-20 131.4 126.2)"/><ellipse cx="178.4" cy="137.0" rx="1.6" ry="4.7" fill="#a7a9ac" transform="rotate(8 178.4 137.0)"/><ellipse cx="205.0" cy="143.5" rx="1.9" ry="3.3" fill="#a7a9ac" transform="rotate(8 205.0 143.5)"/><ellipse cx="185.3" cy="167.8" rx="1.3" ry="1.8" fill="#a7a9ac" transform="rotate(-20 185.3 167.8)"/><ellipse cx="254.8" cy="110.4" rx="0.9" ry="2.8" fill="#a7a9ac" transform="rotate(0 254.8 110.4)"/><rect x="93" y="74.5" width="25.5" height="64" fill="#808285"/></g>
<g transform="translate(0,197.8)"><rect x="118.5" y="41" width="144" height="131.5" fill="#e6e7e8"/><ellipse cx="129.0" cy="46.8" rx="1.5" ry="3.0" fill="#fff" transform="rotate(0 129.0 46.8)"/><ellipse cx="122.1" cy="53.5" rx="2.2" ry="3.0" fill="#fff" transform="rotate(10 122.1 53.5)"/><ellipse cx="138.3" cy="56.6" rx="1.5" ry="3.0" fill="#fff" transform="rotate(5 138.3 56.6)"/><ellipse cx="129.5" cy="64.4" rx="1.5" ry="3.2" fill="#fff" transform="rotate(-5 129.5 64.4)"/><ellipse cx="136.6" cy="72.1" rx="1.5" ry="3.0" fill="#fff" transform="rotate(0 136.6 72.1)"/><ellipse cx="126.6" cy="80.9" rx="1.7" ry="5.0" fill="#fff" transform="rotate(0 126.6 80.9)"/><ellipse cx="141.4" cy="88.6" rx="2.0" ry="3.5" fill="#fff" transform="rotate(-10 141.4 88.6)"/><ellipse cx="154.3" cy="92.3" rx="2.5" ry="3.0" fill="#fff" transform="rotate(0 154.3 92.3)"/><ellipse cx="157.6" cy="46.3" rx="1.6" ry="3.3" fill="#fff" transform="rotate(-5 157.6 46.3)"/><ellipse cx="151.2" cy="51.4" rx="1.3" ry="3.0" fill="#fff" transform="rotate(5 151.2 51.4)"/><ellipse cx="150.0" cy="72.1" rx="1.5" ry="1.8" fill="#fff" transform="rotate(30 150.0 72.1)"/><ellipse cx="165.2" cy="72.1" rx="1.8" ry="5.0" fill="#fff" transform="rotate(20 165.2 72.1)"/><ellipse cx="175.7" cy="51.4" rx="1.8" ry="3.5" fill="#fff" transform="rotate(-15 175.7 51.4)"/><ellipse cx="175.5" cy="63.8" rx="4.0" ry="3.2" fill="#fff" transform="rotate(30 175.5 63.8)"/><ellipse cx="176.6" cy="78.3" rx="2.0" ry="3.3" fill="#fff" transform="rotate(0 176.6 78.3)"/><ellipse cx="186.9" cy="71.6" rx="2.5" ry="3.2" fill="#fff" transform="rotate(0 186.9 71.6)"/><ellipse cx="189.5" cy="56.1" rx="2.0" ry="3.5" fill="#fff" transform="rotate(-20 189.5 56.1)"/><ellipse cx="193.1" cy="84.0" rx="1.8" ry="3.3" fill="#fff" transform="rotate(0 193.1 84.0)"/><ellipse cx="199.6" cy="47.3" rx="3.8" ry="3.2" fill="#fff" transform="rotate(-10 199.6 47.3)"/><ellipse cx="211.2" cy="45.2" rx="2.2" ry="3.5" fill="#fff" transform="rotate(-15 211.2 45.2)"/><ellipse cx="214.8" cy="64.9" rx="1.7" ry="5.0" fill="#fff" transform="rotate(0 214.8 64.9)"/><ellipse cx="214.8" cy="81.4" rx="2.2" ry="3.2" fill="#fff" transform="rotate(0 214.8 81.4)"/><ellipse cx="224.1" cy="54.5" rx="1.8" ry="4.5" fill="#fff" transform="rotate(0 224.1 54.5)"/><ellipse cx="230.8" cy="64.4" rx="1.6" ry="4.5" fill="#fff" transform="rotate(10 230.8 64.4)"/><ellipse cx="227.2" cy="72.1" rx="2.5" ry="4.2" fill="#fff" transform="rotate(-35 227.2 72.1)"/><ellipse cx="225.1" cy="87.6" rx="2.0" ry="3.5" fill="#fff" transform="rotate(-15 225.1 87.6)"/><ellipse cx="239.1" cy="45.8" rx="2.5" ry="3.3" fill="#fff" transform="rotate(0 239.1 45.8)"/><ellipse cx="252.0" cy="44.2" rx="2.0" ry="3.0" fill="#fff" transform="rotate(0 252.0 44.2)"/><ellipse cx="257.7" cy="56.6" rx="2.0" ry="3.3" fill="#fff" transform="rotate(0 257.7 56.6)"/><ellipse cx="250.4" cy="69.5" rx="1.5" ry="3.2" fill="#fff" transform="rotate(0 250.4 69.5)"/><ellipse cx="254.8" cy="76.2" rx="1.7" ry="3.5" fill="#fff" transform="rotate(15 254.8 76.2)"/><ellipse cx="248.9" cy="85.5" rx="2.5" ry="4.0" fill="#fff" transform="rotate(-35 248.9 85.5)"/><ellipse cx="257.7" cy="95.4" rx="1.5" ry="3.5" fill="#fff" transform="rotate(0 257.7 95.4)"/><ellipse cx="213.8" cy="94.3" rx="1.5" ry="2.0" fill="#fff" transform="rotate(0 213.8 94.3)"/><ellipse cx="160.5" cy="63.8" rx="0.5" ry="2.0" fill="#fff" transform="rotate(50 160.5 63.8)"/><ellipse cx="165.2" cy="45.8" rx="0.5" ry="2.5" fill="#fff" transform="rotate(10 165.2 45.8)"/><ellipse cx="184.3" cy="44.2" rx="0.6" ry="2.2" fill="#fff" transform="rotate(-10 184.3 44.2)"/><ellipse cx="223.0" cy="46.8" rx="0.5" ry="2.5" fill="#fff" transform="rotate(10 223.0 46.8)"/><ellipse cx="206.5" cy="79.3" rx="0.5" ry="2.0" fill="#fff" transform="rotate(50 206.5 79.3)"/><ellipse cx="181.2" cy="89.2" rx="0.5" ry="2.2" fill="#fff" transform="rotate(-45 181.2 89.2)"/><ellipse cx="148.7" cy="119.7" rx="1.3" ry="3.0" fill="#fff" transform="rotate(0 148.7 119.7)"/><ellipse cx="171.9" cy="118.2" rx="1.7" ry="3.5" fill="#fff" transform="rotate(0 171.9 118.2)"/><ellipse cx="161.1" cy="127.0" rx="1.5" ry="3.0" fill="#fff" transform="rotate(0 161.1 127.0)"/><ellipse cx="189.0" cy="124.9" rx="1.0" ry="3.0" fill="#fff" transform="rotate(5 189.0 124.9)"/><ellipse cx="203.4" cy="124.4" rx="3.5" ry="3.2" fill="#fff" transform="rotate(0 203.4 124.4)"/><ellipse cx="198.8" cy="128.5" rx="1.2" ry="3.3" fill="#fff" transform="rotate(0 198.8 128.5)"/><ellipse cx="215.8" cy="128.0" rx="2.5" ry="3.3" fill="#fff" transform="rotate(10 215.8 128.0)"/><ellipse cx="231.8" cy="128.0" rx="1.7" ry="3.2" fill="#fff" transform="rotate(0 231.8 128.0)"/><ellipse cx="247.1" cy="120.2" rx="1.6" ry="5.0" fill="#fff" transform="rotate(-10 247.1 120.2)"/><ellipse cx="258.5" cy="121.8" rx="1.3" ry="3.0" fill="#fff" transform="rotate(0 258.5 121.8)"/><ellipse cx="240.9" cy="132.6" rx="1.7" ry="3.5" fill="#fff" transform="rotate(15 240.9 132.6)"/><ellipse cx="257.7" cy="135.7" rx="1.3" ry="3.2" fill="#fff" transform="rotate(0 257.7 135.7)"/><ellipse cx="140.4" cy="139.4" rx="2.5" ry="3.2" fill="#fff" transform="rotate(10 140.4 139.4)"/><ellipse cx="152.1" cy="142.5" rx="3.8" ry="3.2" fill="#fff" transform="rotate(15 152.1 142.5)"/><ellipse cx="167.3" cy="141.9" rx="1.0" ry="3.0" fill="#fff" transform="rotate(5 167.3 141.9)"/><ellipse cx="191.7" cy="140.4" rx="2.0" ry="3.5" fill="#fff" transform="rotate(-15 191.7 140.4)"/><ellipse cx="216.3" cy="138.3" rx="1.7" ry="3.8" fill="#fff" transform="rotate(0 216.3 138.3)"/><ellipse cx="122.1" cy="147.6" rx="1.8" ry="3.5" fill="#fff" transform="rotate(5 122.1 147.6)"/><ellipse cx="161.1" cy="154.3" rx="2.0" ry="6.5" fill="#fff" transform="rotate(-5 161.1 154.3)"/><ellipse cx="178.6" cy="151.8" rx="2.2" ry="3.3" fill="#fff" transform="rotate(-5 178.6 151.8)"/><ellipse cx="200.6" cy="154.3" rx="1.3" ry="3.0" fill="#fff" transform="rotate(-5 200.6 154.3)"/><ellipse cx="215.3" cy="151.4" rx="1.8" ry="3.7" fill="#fff" transform="rotate(-10 215.3 151.4)"/><ellipse cx="226.7" cy="147.6" rx="1.8" ry="5.5" fill="#fff" transform="rotate(-20 226.7 147.6)"/><ellipse cx="240.3" cy="145.2" rx="1.5" ry="3.5" fill="#fff" transform="rotate(-5 240.3 145.2)"/><ellipse cx="250.4" cy="149.2" rx="1.7" ry="4.7" fill="#fff" transform="rotate(5 250.4 149.2)"/><ellipse cx="127.8" cy="155.9" rx="2.0" ry="3.0" fill="#fff" transform="rotate(0 127.8 155.9)"/><ellipse cx="136.8" cy="158.0" rx="1.5" ry="5.0" fill="#fff" transform="rotate(0 136.8 158.0)"/><ellipse cx="122.1" cy="166.7" rx="1.4" ry="3.2" fill="#fff" transform="rotate(5 122.1 166.7)"/><ellipse cx="151.8" cy="165.2" rx="1.8" ry="3.5" fill="#fff" transform="rotate(-10 151.8 165.2)"/><ellipse cx="164.5" cy="168.8" rx="2.5" ry="3.0" fill="#fff" transform="rotate(0 164.5 168.8)"/><ellipse cx="176.0" cy="163.6" rx="4.0" ry="3.2" fill="#fff" transform="rotate(-20 176.0 163.6)"/><ellipse cx="201.9" cy="165.2" rx="1.7" ry="3.5" fill="#fff" transform="rotate(0 201.9 165.2)"/><ellipse cx="213.0" cy="161.6" rx="1.4" ry="3.0" fill="#fff" transform="rotate(-5 213.0 161.6)"/><ellipse cx="223.6" cy="164.4" rx="4.0" ry="3.0" fill="#fff" transform="rotate(30 223.6 164.4)"/><ellipse cx="238.3" cy="163.1" rx="1.5" ry="3.5" fill="#fff" transform="rotate(0 238.3 163.1)"/><ellipse cx="250.4" cy="162.6" rx="1.3" ry="3.2" fill="#fff" transform="rotate(0 250.4 162.6)"/><ellipse cx="257.7" cy="164.7" rx="1.7" ry="3.0" fill="#fff" transform="rotate(0 257.7 164.7)"/><ellipse cx="139.4" cy="131.4" rx="0.5" ry="2.2" fill="#fff" transform="rotate(-45 139.4 131.4)"/><ellipse cx="128.7" cy="138.8" rx="0.4" ry="2.5" fill="#fff" transform="rotate(-10 128.7 138.8)"/><ellipse cx="186.4" cy="147.1" rx="0.4" ry="2.2" fill="#fff" transform="rotate(-10 186.4 147.1)"/><ellipse cx="191.5" cy="165.7" rx="0.5" ry="2.2" fill="#fff" transform="rotate(-45 191.5 165.7)"/><ellipse cx="227.2" cy="128.5" rx="0.4" ry="2.5" fill="#fff" transform="rotate(0 227.2 128.5)"/><ellipse cx="248.5" cy="119.5" rx="1.3" ry="2.6" fill="#fff" transform="rotate(0 248.5 119.5)"/><ellipse cx="147.6" cy="61.6" rx="1.7" ry="3.3" fill="#a7a9ac" transform="rotate(-10 147.6 61.6)"/><ellipse cx="200.0" cy="70.0" rx="1.9" ry="3.2" fill="#a7a9ac" transform="rotate(10 200.0 70.0)"/><ellipse cx="242.7" cy="57.6" rx="1.7" ry="4.8" fill="#a7a9ac" transform="rotate(10 242.7 57.6)"/><ellipse cx="165.7" cy="86.6" rx="4.2" ry="3.0" fill="#a7a9ac" transform="rotate(-15 165.7 86.6)"/><ellipse cx="237.0" cy="85.0" rx="2.0" ry="3.2" fill="#a7a9ac" transform="rotate(-5 237.0 85.0)"/><ellipse cx="131.4" cy="126.2" rx="4.0" ry="3.0" fill="#a7a9ac" transform="rotate(-20 131.4 126.2)"/><ellipse cx="178.4" cy="137.0" rx="1.6" ry="4.7" fill="#a7a9ac" transform="rotate(8 178.4 137.0)"/><ellipse cx="205.0" cy="143.5" rx="1.9" ry="3.3" fill="#a7a9ac" transform="rotate(8 205.0 143.5)"/><ellipse cx="185.3" cy="167.8" rx="1.3" ry="1.8" fill="#a7a9ac" transform="rotate(-20 185.3 167.8)"/><ellipse cx="254.8" cy="110.4" rx="0.9" ry="2.8" fill="#a7a9ac" transform="rotate(0 254.8 110.4)"/><rect x="93" y="74.5" width="25.5" height="64" fill="#808285"/></g>
<g transform="translate(0,395.5)"><rect x="118.5" y="41" width="144" height="131.5" fill="#e6e7e8"/><ellipse cx="129.0" cy="46.8" rx="1.5" ry="3.0" fill="#fff" transform="rotate(0 129.0 46.8)"/><ellipse cx="122.1" cy="53.5" rx="2.2" ry="3.0" fill="#fff" transform="rotate(10 122.1 53.5)"/><ellipse cx="138.3" cy="56.6" rx="1.5" ry="3.0" fill="#fff" transform="rotate(5 138.3 56.6)"/><ellipse cx="129.5" cy="64.4" rx="1.5" ry="3.2" fill="#fff" transform="rotate(-5 129.5 64.4)"/><ellipse cx="136.6" cy="72.1" rx="1.5" ry="3.0" fill="#fff" transform="rotate(0 136.6 72.1)"/><ellipse cx="126.6" cy="80.9" rx="1.7" ry="5.0" fill="#fff" transform="rotate(0 126.6 80.9)"/><ellipse cx="141.4" cy="88.6" rx="2.0" ry="3.5" fill="#fff" transform="rotate(-10 141.4 88.6)"/><ellipse cx="154.3" cy="92.3" rx="2.5" ry="3.0" fill="#fff" transform="rotate(0 154.3 92.3)"/><ellipse cx="157.6" cy="46.3" rx="1.6" ry="3.3" fill="#fff" transform="rotate(-5 157.6 46.3)"/><ellipse cx="151.2" cy="51.4" rx="1.3" ry="3.0" fill="#fff" transform="rotate(5 151.2 51.4)"/><ellipse cx="150.0" cy="72.1" rx="1.5" ry="1.8" fill="#fff" transform="rotate(30 150.0 72.1)"/><ellipse cx="165.2" cy="72.1" rx="1.8" ry="5.0" fill="#fff" transform="rotate(20 165.2 72.1)"/><ellipse cx="175.7" cy="51.4" rx="1.8" ry="3.5" fill="#fff" transform="rotate(-15 175.7 51.4)"/><ellipse cx="175.5" cy="63.8" rx="4.0" ry="3.2" fill="#fff" transform="rotate(30 175.5 63.8)"/><ellipse cx="176.6" cy="78.3" rx="2.0" ry="3.3" fill="#fff" transform="rotate(0 176.6 78.3)"/><ellipse cx="186.9" cy="71.6" rx="2.5" ry="3.2" fill="#fff" transform="rotate(0 186.9 71.6)"/><ellipse cx="189.5" cy="56.1" rx="2.0" ry="3.5" fill="#fff" transform="rotate(-20 189.5 56.1)"/><ellipse cx="193.1" cy="84.0" rx="1.8" ry="3.3" fill="#fff" transform="rotate(0 193.1 84.0)"/><ellipse cx="199.6" cy="47.3" rx="3.8" ry="3.2" fill="#fff" transform="rotate(-10 199.6 47.3)"/><ellipse cx="211.2" cy="45.2" rx="2.2" ry="3.5" fill="#fff" transform="rotate(-15 211.2 45.2)"/><ellipse cx="214.8" cy="64.9" rx="1.7" ry="5.0" fill="#fff" transform="rotate(0 214.8 64.9)"/><ellipse cx="214.8" cy="81.4" rx="2.2" ry="3.2" fill="#fff" transform="rotate(0 214.8 81.4)"/><ellipse cx="224.1" cy="54.5" rx="1.8" ry="4.5" fill="#fff" transform="rotate(0 224.1 54.5)"/><ellipse cx="230.8" cy="64.4" rx="1.6" ry="4.5" fill="#fff" transform="rotate(10 230.8 64.4)"/><ellipse cx="227.2" cy="72.1" rx="2.5" ry="4.2" fill="#fff" transform="rotate(-35 227.2 72.1)"/><ellipse cx="225.1" cy="87.6" rx="2.0" ry="3.5" fill="#fff" transform="rotate(-15 225.1 87.6)"/><ellipse cx="239.1" cy="45.8" rx="2.5" ry="3.3" fill="#fff" transform="rotate(0 239.1 45.8)"/><ellipse cx="252.0" cy="44.2" rx="2.0" ry="3.0" fill="#fff" transform="rotate(0 252.0 44.2)"/><ellipse cx="257.7" cy="56.6" rx="2.0" ry="3.3" fill="#fff" transform="rotate(0 257.7 56.6)"/><ellipse cx="250.4" cy="69.5" rx="1.5" ry="3.2" fill="#fff" transform="rotate(0 250.4 69.5)"/><ellipse cx="254.8" cy="76.2" rx="1.7" ry="3.5" fill="#fff" transform="rotate(15 254.8 76.2)"/><ellipse cx="248.9" cy="85.5" rx="2.5" ry="4.0" fill="#fff" transform="rotate(-35 248.9 85.5)"/><ellipse cx="257.7" cy="95.4" rx="1.5" ry="3.5" fill="#fff" transform="rotate(0 257.7 95.4)"/><ellipse cx="213.8" cy="94.3" rx="1.5" ry="2.0" fill="#fff" transform="rotate(0 213.8 94.3)"/><ellipse cx="160.5" cy="63.8" rx="0.5" ry="2.0" fill="#fff" transform="rotate(50 160.5 63.8)"/><ellipse cx="165.2" cy="45.8" rx="0.5" ry="2.5" fill="#fff" transform="rotate(10 165.2 45.8)"/><ellipse cx="184.3" cy="44.2" rx="0.6" ry="2.2" fill="#fff" transform="rotate(-10 184.3 44.2)"/><ellipse cx="223.0" cy="46.8" rx="0.5" ry="2.5" fill="#fff" transform="rotate(10 223.0 46.8)"/><ellipse cx="206.5" cy="79.3" rx="0.5" ry="2.0" fill="#fff" transform="rotate(50 206.5 79.3)"/><ellipse cx="181.2" cy="89.2" rx="0.5" ry="2.2" fill="#fff" transform="rotate(-45 181.2 89.2)"/><ellipse cx="148.7" cy="119.7" rx="1.3" ry="3.0" fill="#fff" transform="rotate(0 148.7 119.7)"/><ellipse cx="171.9" cy="118.2" rx="1.7" ry="3.5" fill="#fff" transform="rotate(0 171.9 118.2)"/><ellipse cx="161.1" cy="127.0" rx="1.5" ry="3.0" fill="#fff" transform="rotate(0 161.1 127.0)"/><ellipse cx="189.0" cy="124.9" rx="1.0" ry="3.0" fill="#fff" transform="rotate(5 189.0 124.9)"/><ellipse cx="203.4" cy="124.4" rx="3.5" ry="3.2" fill="#fff" transform="rotate(0 203.4 124.4)"/><ellipse cx="198.8" cy="128.5" rx="1.2" ry="3.3" fill="#fff" transform="rotate(0 198.8 128.5)"/><ellipse cx="215.8" cy="128.0" rx="2.5" ry="3.3" fill="#fff" transform="rotate(10 215.8 128.0)"/><ellipse cx="231.8" cy="128.0" rx="1.7" ry="3.2" fill="#fff" transform="rotate(0 231.8 128.0)"/><ellipse cx="247.1" cy="120.2" rx="1.6" ry="5.0" fill="#fff" transform="rotate(-10 247.1 120.2)"/><ellipse cx="258.5" cy="121.8" rx="1.3" ry="3.0" fill="#fff" transform="rotate(0 258.5 121.8)"/><ellipse cx="240.9" cy="132.6" rx="1.7" ry="3.5" fill="#fff" transform="rotate(15 240.9 132.6)"/><ellipse cx="257.7" cy="135.7" rx="1.3" ry="3.2" fill="#fff" transform="rotate(0 257.7 135.7)"/><ellipse cx="140.4" cy="139.4" rx="2.5" ry="3.2" fill="#fff" transform="rotate(10 140.4 139.4)"/><ellipse cx="152.1" cy="142.5" rx="3.8" ry="3.2" fill="#fff" transform="rotate(15 152.1 142.5)"/><ellipse cx="167.3" cy="141.9" rx="1.0" ry="3.0" fill="#fff" transform="rotate(5 167.3 141.9)"/><ellipse cx="191.7" cy="140.4" rx="2.0" ry="3.5" fill="#fff" transform="rotate(-15 191.7 140.4)"/><ellipse cx="216.3" cy="138.3" rx="1.7" ry="3.8" fill="#fff" transform="rotate(0 216.3 138.3)"/><ellipse cx="122.1" cy="147.6" rx="1.8" ry="3.5" fill="#fff" transform="rotate(5 122.1 147.6)"/><ellipse cx="161.1" cy="154.3" rx="2.0" ry="6.5" fill="#fff" transform="rotate(-5 161.1 154.3)"/><ellipse cx="178.6" cy="151.8" rx="2.2" ry="3.3" fill="#fff" transform="rotate(-5 178.6 151.8)"/><ellipse cx="200.6" cy="154.3" rx="1.3" ry="3.0" fill="#fff" transform="rotate(-5 200.6 154.3)"/><ellipse cx="215.3" cy="151.4" rx="1.8" ry="3.7" fill="#fff" transform="rotate(-10 215.3 151.4)"/><ellipse cx="226.7" cy="147.6" rx="1.8" ry="5.5" fill="#fff" transform="rotate(-20 226.7 147.6)"/><ellipse cx="240.3" cy="145.2" rx="1.5" ry="3.5" fill="#fff" transform="rotate(-5 240.3 145.2)"/><ellipse cx="250.4" cy="149.2" rx="1.7" ry="4.7" fill="#fff" transform="rotate(5 250.4 149.2)"/><ellipse cx="127.8" cy="155.9" rx="2.0" ry="3.0" fill="#fff" transform="rotate(0 127.8 155.9)"/><ellipse cx="136.8" cy="158.0" rx="1.5" ry="5.0" fill="#fff" transform="rotate(0 136.8 158.0)"/><ellipse cx="122.1" cy="166.7" rx="1.4" ry="3.2" fill="#fff" transform="rotate(5 122.1 166.7)"/><ellipse cx="151.8" cy="165.2" rx="1.8" ry="3.5" fill="#fff" transform="rotate(-10 151.8 165.2)"/><ellipse cx="164.5" cy="168.8" rx="2.5" ry="3.0" fill="#fff" transform="rotate(0 164.5 168.8)"/><ellipse cx="176.0" cy="163.6" rx="4.0" ry="3.2" fill="#fff" transform="rotate(-20 176.0 163.6)"/><ellipse cx="201.9" cy="165.2" rx="1.7" ry="3.5" fill="#fff" transform="rotate(0 201.9 165.2)"/><ellipse cx="213.0" cy="161.6" rx="1.4" ry="3.0" fill="#fff" transform="rotate(-5 213.0 161.6)"/><ellipse cx="223.6" cy="164.4" rx="4.0" ry="3.0" fill="#fff" transform="rotate(30 223.6 164.4)"/><ellipse cx="238.3" cy="163.1" rx="1.5" ry="3.5" fill="#fff" transform="rotate(0 238.3 163.1)"/><ellipse cx="250.4" cy="162.6" rx="1.3" ry="3.2" fill="#fff" transform="rotate(0 250.4 162.6)"/><ellipse cx="257.7" cy="164.7" rx="1.7" ry="3.0" fill="#fff" transform="rotate(0 257.7 164.7)"/><ellipse cx="139.4" cy="131.4" rx="0.5" ry="2.2" fill="#fff" transform="rotate(-45 139.4 131.4)"/><ellipse cx="128.7" cy="138.8" rx="0.4" ry="2.5" fill="#fff" transform="rotate(-10 128.7 138.8)"/><ellipse cx="186.4" cy="147.1" rx="0.4" ry="2.2" fill="#fff" transform="rotate(-10 186.4 147.1)"/><ellipse cx="191.5" cy="165.7" rx="0.5" ry="2.2" fill="#fff" transform="rotate(-45 191.5 165.7)"/><ellipse cx="227.2" cy="128.5" rx="0.4" ry="2.5" fill="#fff" transform="rotate(0 227.2 128.5)"/><ellipse cx="248.5" cy="119.5" rx="1.3" ry="2.6" fill="#fff" transform="rotate(0 248.5 119.5)"/><ellipse cx="147.6" cy="61.6" rx="1.7" ry="3.3" fill="#a7a9ac" transform="rotate(-10 147.6 61.6)"/><ellipse cx="200.0" cy="70.0" rx="1.9" ry="3.2" fill="#a7a9ac" transform="rotate(10 200.0 70.0)"/><ellipse cx="242.7" cy="57.6" rx="1.7" ry="4.8" fill="#a7a9ac" transform="rotate(10 242.7 57.6)"/><ellipse cx="165.7" cy="86.6" rx="4.2" ry="3.0" fill="#a7a9ac" transform="rotate(-15 165.7 86.6)"/><ellipse cx="237.0" cy="85.0" rx="2.0" ry="3.2" fill="#a7a9ac" transform="rotate(-5 237.0 85.0)"/><ellipse cx="131.4" cy="126.2" rx="4.0" ry="3.0" fill="#a7a9ac" transform="rotate(-20 131.4 126.2)"/><ellipse cx="178.4" cy="137.0" rx="1.6" ry="4.7" fill="#a7a9ac" transform="rotate(8 178.4 137.0)"/><ellipse cx="205.0" cy="143.5" rx="1.9" ry="3.3" fill="#a7a9ac" transform="rotate(8 205.0 143.5)"/><ellipse cx="185.3" cy="167.8" rx="1.3" ry="1.8" fill="#a7a9ac" transform="rotate(-20 185.3 167.8)"/><ellipse cx="254.8" cy="110.4" rx="0.9" ry="2.8" fill="#a7a9ac" transform="rotate(0 254.8 110.4)"/><rect x="93" y="74.5" width="25.5" height="64" fill="#808285"/></g>
<path d="M93,96.3 H243.2 L248.8,106 L243.2,115.6 H93 Z" fill="#a7a9ac"/>
<clipPath id="p1"><rect x="35" y="41" width="227.5" height="131.5"/></clipPath>
<g clip-path="url(#p1)"><g stroke="#111" stroke-width="1.15" fill="#fff" stroke-linejoin="round" stroke-linecap="round"><path d="M34,97.3 L43.1,97.0 L54.5,100.7 C56.5,98.6 58.5,97.4 62.5,97.3 L73.5,97.4 L84.9,101.1 C86.9,98.9 88.9,97.7 92.9,97.6 L103.9,97.7 L115.3,101.4 C117.3,99.2 119.3,98.0 123.3,97.9 L134.3,98.0 L145.7,101.7 C147.7,99.5 149.7,98.3 153.7,98.2 L164.7,98.3 L176.1,102.0 C178.1,99.8 180.1,98.6 184.1,98.5 L195.1,98.6 L206.5,102.3 C208.5,100.1 210.5,98.9 214.5,98.8 L228,100.1 L235.5,99.2 L239.2,100.2 L242.2,106.6 L239.6,112.6 L235.5,113.9 L228,113.6 C230.5,113.1 226.5,113.8 222.5,113.9 L207.5,113.9 C203.5,113.5 200.5,112.3 198.8,111.4 L204.4,111.6 C200.1,112.8 196.1,113.5 192.1,113.6 L177.1,113.6 C173.1,113.2 170.1,112.0 168.4,111.1 L174.0,111.3 C169.7,112.5 165.7,113.2 161.7,113.3 L146.7,113.3 C142.7,112.9 139.7,111.7 138.0,110.8 L143.6,111.0 C139.3,112.2 135.3,112.9 131.3,113.0 L116.3,113.0 C112.3,112.6 109.3,111.4 107.6,110.5 L113.2,110.7 C108.9,111.9 104.9,112.6 100.9,112.7 L85.9,112.7 C81.9,112.3 78.9,111.1 77.2,110.2 L82.8,110.4 C78.5,111.6 74.5,112.3 70.5,112.4 L55.5,112.4 C51.5,112.0 48.5,110.8 46.8,109.9 L52.4,110.1 C48.1,111.3 44.1,112.0 40.1,112.1 L34,112.2 Z"/><path d="M34.5,97.1 L52.9,110.2" fill="none"/><path d="M43.3,97.3 L60.9,111.4" fill="none"/><path d="M64.9,97.4 L83.3,110.5" fill="none"/><path d="M73.7,97.6 L91.3,111.7" fill="none"/><path d="M54.5,101.6 C59.5,106.0 64.5,109.5 68.9,111.6" fill="none" stroke-width="0.95"/><path d="M56.9,103.3 C62.5,106.5 68.5,109.0 74.5,110.8" fill="none" stroke-width="0.95"/><path d="M95.3,97.7 L113.7,110.8" fill="none"/><path d="M104.1,97.9 L121.7,112.0" fill="none"/><path d="M84.9,101.9 C89.9,106.3 94.9,109.8 99.3,111.9" fill="none" stroke-width="0.95"/><path d="M87.3,103.6 C92.9,106.8 98.9,109.3 104.9,111.1" fill="none" stroke-width="0.95"/><path d="M125.7,98.0 L144.1,111.1" fill="none"/><path d="M134.5,98.2 L152.1,112.3" fill="none"/><path d="M115.3,102.2 C120.3,106.6 125.3,110.1 129.7,112.2" fill="none" stroke-width="0.95"/><path d="M117.7,103.9 C123.3,107.1 129.3,109.6 135.3,111.4" fill="none" stroke-width="0.95"/><path d="M156.1,98.3 L174.5,111.4" fill="none"/><path d="M164.9,98.5 L182.5,112.6" fill="none"/><path d="M145.7,102.5 C150.7,106.9 155.7,110.4 160.1,112.5" fill="none" stroke-width="0.95"/><path d="M148.1,104.2 C153.7,107.4 159.7,109.9 165.7,111.7" fill="none" stroke-width="0.95"/><path d="M186.5,98.6 L204.9,111.7" fill="none"/><path d="M195.3,98.8 L212.9,112.9" fill="none"/><path d="M176.1,102.8 C181.1,107.2 186.1,110.7 190.5,112.8" fill="none" stroke-width="0.95"/><path d="M178.5,104.5 C184.1,107.7 190.1,110.2 196.1,112.0" fill="none" stroke-width="0.95"/><path d="M206.5,103.1 C211.5,107.5 216.5,111.0 220.9,113.1" fill="none" stroke-width="0.95"/><path d="M208.9,104.8 C214.5,108.0 220.5,110.5 226.5,112.3" fill="none" stroke-width="0.95"/><path d="M234.8,99.3 C236.8,103 236.8,109.5 235,113.7" fill="none"/><path d="M236.5,99.4 L239.4,100.4 L242,106.6 L239.6,112.6 L236,113.8" fill="none" stroke-width="1.7"/><path d="M227,99.5 H236 M228,113.5 H235.5" stroke-width="1.8" fill="none"/><path d="M218,99.6 C222.5,99.6 224.5,101.5 224,104.2" fill="none"/></g></g>
<g><path d="M219,294.3 H244 L248.9,303.6 L244,312.9 H219 Z" fill="#a7a9ac"/><g stroke="#1c1c1c" stroke-width="1.1" fill="#fff" stroke-linejoin="round"><rect x="65.3" y="296.2" width="10" height="14.8"/><rect x="68.5" y="295.0" width="7" height="17.2"/><path d="M86.5,295.0 H89 M86.5,312.2 H89" fill="none"/><path d="M92.5,295.5 L150,294.5 H219.8 V312.7 H92.5 Z"/><rect x="219.8" y="294.5" width="9" height="18.2"/><rect x="88.6" y="287.5" width="3.9" height="32.0"/><path d="M77,288.6 H84.5 C86.3,288.6 87,290.6 87,292.6 V314.6 C87,316.6 86.3,318.6 84.5,318.6 H77 C75.2,318.6 74.5,316.6 74.5,314.6 V292.6 C74.5,290.6 75.2,288.6 77,288.6 Z"/><path d="M75.6,295.1 H85.9 M75.6,312.1 H85.9" fill="none"/><path d="M75.3,295.1 C74.3,300.6 74.3,306.6 75.3,312.1 M85.7,295.1 C86.7,300.6 86.7,306.6 85.7,312.1" fill="none" stroke-width="0.9"/><path d="M158.5,294.8 C158.5,298.1 161,301.2 165.8,301.0 C163,300.1 161.6,297.6 161.6,294.8" fill="none" stroke-width="1"/><path d="M158.5,312.4 C158.5,309.1 161,306.0 165.8,306.2 C163,307.1 161.6,309.6 161.6,312.4" fill="none" stroke-width="1"/><path d="M169.3,298.6 C172,297.6 176.6,298.6 176.6,303.6 C176.6,308.6 172,309.6 169.3,308.6 C172,307.6 173.8,306.1 173.8,303.6 C173.8,301.1 172,299.6 169.3,298.6 Z" stroke-width="1"/><circle cx="184.4" cy="303.6" r="3.1" stroke-width="1"/><path d="M187.5,303.7 L219.5,302.7 M202.5,303.9 L219.5,304.1" fill="none" stroke-width="0.9"/><path d="M202.5,302.4 V304.8" fill="none" stroke-width="0.9"/></g></g>
<g><path d="M219,492.0 H244 L248.9,501.3 L244,510.6 H219 Z" fill="#a7a9ac"/><g stroke="#1c1c1c" stroke-width="1.1" fill="#fff" stroke-linejoin="round"><rect x="65.3" y="493.9" width="10" height="14.8"/><rect x="68.5" y="492.7" width="7" height="17.2"/><path d="M86.5,492.7 H89 M86.5,509.9 H89" fill="none"/><rect x="219.8" y="492.2" width="9" height="18.2"/><path d="M186,500.1 L219.8,496.8 V505.8 L186,502.5 Z" stroke="none"/><path d="M92.5,493.2 L150,492.2 H180 L219.8,487.9 V497.0 L188,500.3  L188,502.3 L219.8,505.6 V514.7 L180,510.4 H92.5 Z"/><rect x="88.6" y="485.2" width="3.9" height="32.0"/><path d="M77,486.3 H84.5 C86.3,486.3 87,488.3 87,490.3 V512.3 C87,514.3 86.3,516.3 84.5,516.3 H77 C75.2,516.3 74.5,514.3 74.5,512.3 V490.3 C74.5,488.3 75.2,486.3 77,486.3 Z"/><path d="M75.6,492.8 H85.9 M75.6,509.8 H85.9" fill="none"/><path d="M75.3,492.8 C74.3,498.3 74.3,504.3 75.3,509.8 M85.7,492.8 C86.7,498.3 86.7,504.3 85.7,509.8" fill="none" stroke-width="0.9"/><path d="M158.5,492.5 C158.5,495.8 161,498.9 165.8,498.7 C163,497.8 161.6,495.3 161.6,492.5" fill="none" stroke-width="1"/><path d="M158.5,510.1 C158.5,506.8 161,503.7 165.8,503.9 C163,504.8 161.6,507.3 161.6,510.1" fill="none" stroke-width="1"/><path d="M169.3,496.3 C172,495.3 176.6,496.3 176.6,501.3 C176.6,506.3 172,507.3 169.3,506.3 C172,505.3 173.8,503.8 173.8,501.3 C173.8,498.8 172,497.3 169.3,496.3 Z" stroke-width="1"/><circle cx="184.4" cy="501.3" r="3.1" stroke-width="1"/><path d="M202.5,498.7 V503.9 M217,497.3 V505.3" fill="none" stroke-width="1"/></g></g>
<rect x="34.5" y="40.5" width="228" height="132" fill="none" stroke="#3a3a3a" stroke-width="1.2"/>
<rect x="34.5" y="238.3" width="228" height="132" fill="none" stroke="#3a3a3a" stroke-width="1.2"/>
<rect x="34.5" y="436.0" width="228" height="132" fill="none" stroke="#3a3a3a" stroke-width="1.2"/>
<text x="279.6" y="85.0" font-size="23.6" textLength="147.4" lengthAdjust="spacing" stroke="#111" stroke-width="0.35">Просверлите</text>
<text x="436.0" y="85.0" font-size="23.6" textLength="120.4" lengthAdjust="spacing" stroke="#111" stroke-width="0.35">отверстие.</text>
<text x="280.3" y="113.9" font-size="23.6" textLength="105.0" lengthAdjust="spacing" stroke="#111" stroke-width="0.35">Очистите</text>
<text x="391.8" y="113.9" font-size="23.6" textLength="114.9" lengthAdjust="spacing" stroke="#111" stroke-width="0.35">отверстие</text>
<text x="281.0" y="142.5" font-size="23.6" textLength="22.0" lengthAdjust="spacingAndGlyphs" stroke="#111" stroke-width="0.35">от</text>
<text x="311.8" y="142.5" font-size="23.6" textLength="92.9" lengthAdjust="spacing" stroke="#111" stroke-width="0.35">буровой</text>
<text x="413.1" y="142.5" font-size="23.6" textLength="62.5" lengthAdjust="spacing" stroke="#111" stroke-width="0.35">муки.</text>
<text x="280.0" y="282.0" font-size="23.6" textLength="97.0" lengthAdjust="spacingAndGlyphs" stroke="#111" stroke-width="0.35">Вставьте</text>
<text x="384.7" y="282.0" font-size="23.6" textLength="66.0" lengthAdjust="spacing" stroke="#111" stroke-width="0.35">анкер</text>
<text x="280.7" y="310.9" font-size="23.6" textLength="12.0" lengthAdjust="spacingAndGlyphs" stroke="#111" stroke-width="0.35">в</text>
<text x="300.0" y="310.9" font-size="23.6" textLength="114.2" lengthAdjust="spacing" stroke="#111" stroke-width="0.35">отверстие</text>
<text x="421.3" y="310.9" font-size="23.6" textLength="64.0" lengthAdjust="spacing" stroke="#111" stroke-width="0.35">через</text>
<text x="280.7" y="339.5" font-size="23.6" textLength="179.0" lengthAdjust="spacing" stroke="#111" stroke-width="0.35">прикрепляемую</text>
<text x="468.7" y="339.5" font-size="23.6" textLength="81.7" lengthAdjust="spacingAndGlyphs" stroke="#111" stroke-width="0.35">деталь.</text>
<text x="280.3" y="508.0" font-size="23.6" textLength="111.9" lengthAdjust="spacing" stroke="#111" stroke-width="0.35">Закрутите</text>
<text x="400.3" y="508.0" font-size="23.6" textLength="67.7" lengthAdjust="spacing" stroke="#111" stroke-width="0.35">гайку.</text>
</svg>
</body></html>
